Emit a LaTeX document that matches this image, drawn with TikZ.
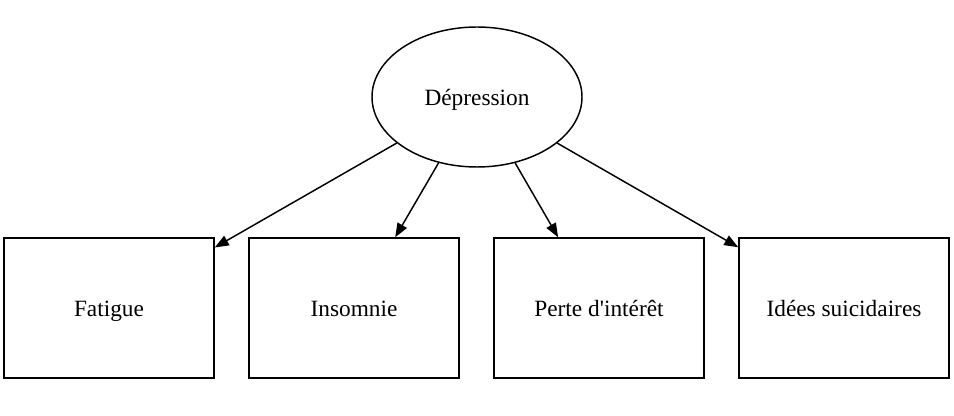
\documentclass[tikz,border=0pt]{standalone}
\usepackage{fontspec}
\setmainfont{Liberation Serif}[Ligatures=TeXOff]
\usepackage{tikz}
\usetikzlibrary{arrows.meta,shapes.geometric,positioning}

\begin{document}
\begin{tikzpicture}[x=0.75pt, y=-0.75pt, >={Triangle[length=10.5pt,width=8pt]}, line width=1.1pt,
    cause/.style={draw, ellipse, minimum width=157.5pt, minimum height=105pt, inner sep=0pt, text height=13.5pt, text depth=0pt, font=\fontsize{17.5}{20}\selectfont},
    symptome/.style={draw, rectangle, minimum width=157.5pt, minimum height=105pt, inner sep=0pt, text height=13.5pt, text depth=0pt, font=\fontsize{17.5}{20}\selectfont}]
    \useasboundingbox (0,0) rectangle (954,416); %固定画布大小
    \node[cause] (dep) at (477,97) {Dépression};
    %% 四个症状方框
    \node[symptome] (fat) at (109,308) {Fatigue};
    \node[symptome] (ins) at (354,308) {Insomnie};
    \node[symptome] (per) at (599,308) {Perte d'intérêt};
    \node[symptome] (ide) at (844,308) {Idées suicidaires};
    \foreach \s in {fat,ins,per,ide}
        \draw[->] (dep) -- (\s); %从椭圆指向各方框
\end{tikzpicture}
\end{document}
